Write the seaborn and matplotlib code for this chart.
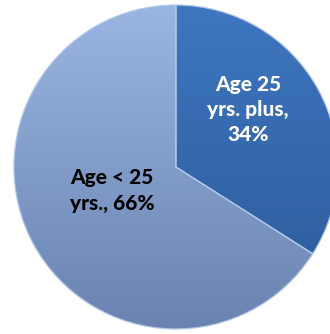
import numpy as np
import seaborn as sns
import matplotlib.pyplot as plt
from matplotlib.colors import LinearSegmentedColormap

sns.set_style('white')
plt.rcParams['font.family'] = ['Lato', 'DejaVu Sans']

# data
labels = ['Age 25\nyrs. plus,\n34%', 'Age < 25\nyrs., 66%']
shares = [34, 66]
top_colors = ['#3E76C0', '#9AB5E2']
bottom_colors = ['#2B5A98', '#6A83B0']
text_colors = ['white', 'black']

fig = plt.figure(figsize=(3.30, 3.34), dpi=100)
ax = fig.add_axes([0, 0, 1, 1])

wedges, _ = ax.pie(shares, startangle=90, counterclock=False,
                   colors=sns.color_palette(top_colors), radius=1.0,
                   wedgeprops=dict(linewidth=0))

# vertical shading inside each slice
grad = np.linspace(0, 1, 256).reshape(-1, 1)
for w, c_top, c_bot in zip(wedges, top_colors, bottom_colors):
    cmap = LinearSegmentedColormap.from_list('shade', [c_top, c_bot])
    im = ax.imshow(grad, cmap=cmap, extent=[-1, 1, -1, 1], origin='upper',
                   aspect='auto', zorder=2)
    im.set_clip_path(w)

# thin light edge along the slice borders
for w in wedges:
    w.set_edgecolor('#B4C7E8')
    w.set_linewidth(0.9)
    w.set_facecolor('none')
    w.set_zorder(3)

# labels
ax.text(0.445, 0.355, labels[0], ha='center', va='center', color=text_colors[0],
        fontsize=15, fontweight='black', linespacing=1.38, zorder=4)
ax.text(-0.395, -0.145, labels[1], ha='center', va='center', color=text_colors[1],
        fontsize=15, fontweight='black', linespacing=1.38, zorder=4)

ax.set_xlim(-1.086, 0.951)
ax.set_ylim(-1.031, 1.031)
ax.set_aspect('auto')
ax.axis('off')

fig.savefig('out.png', dpi=100)
